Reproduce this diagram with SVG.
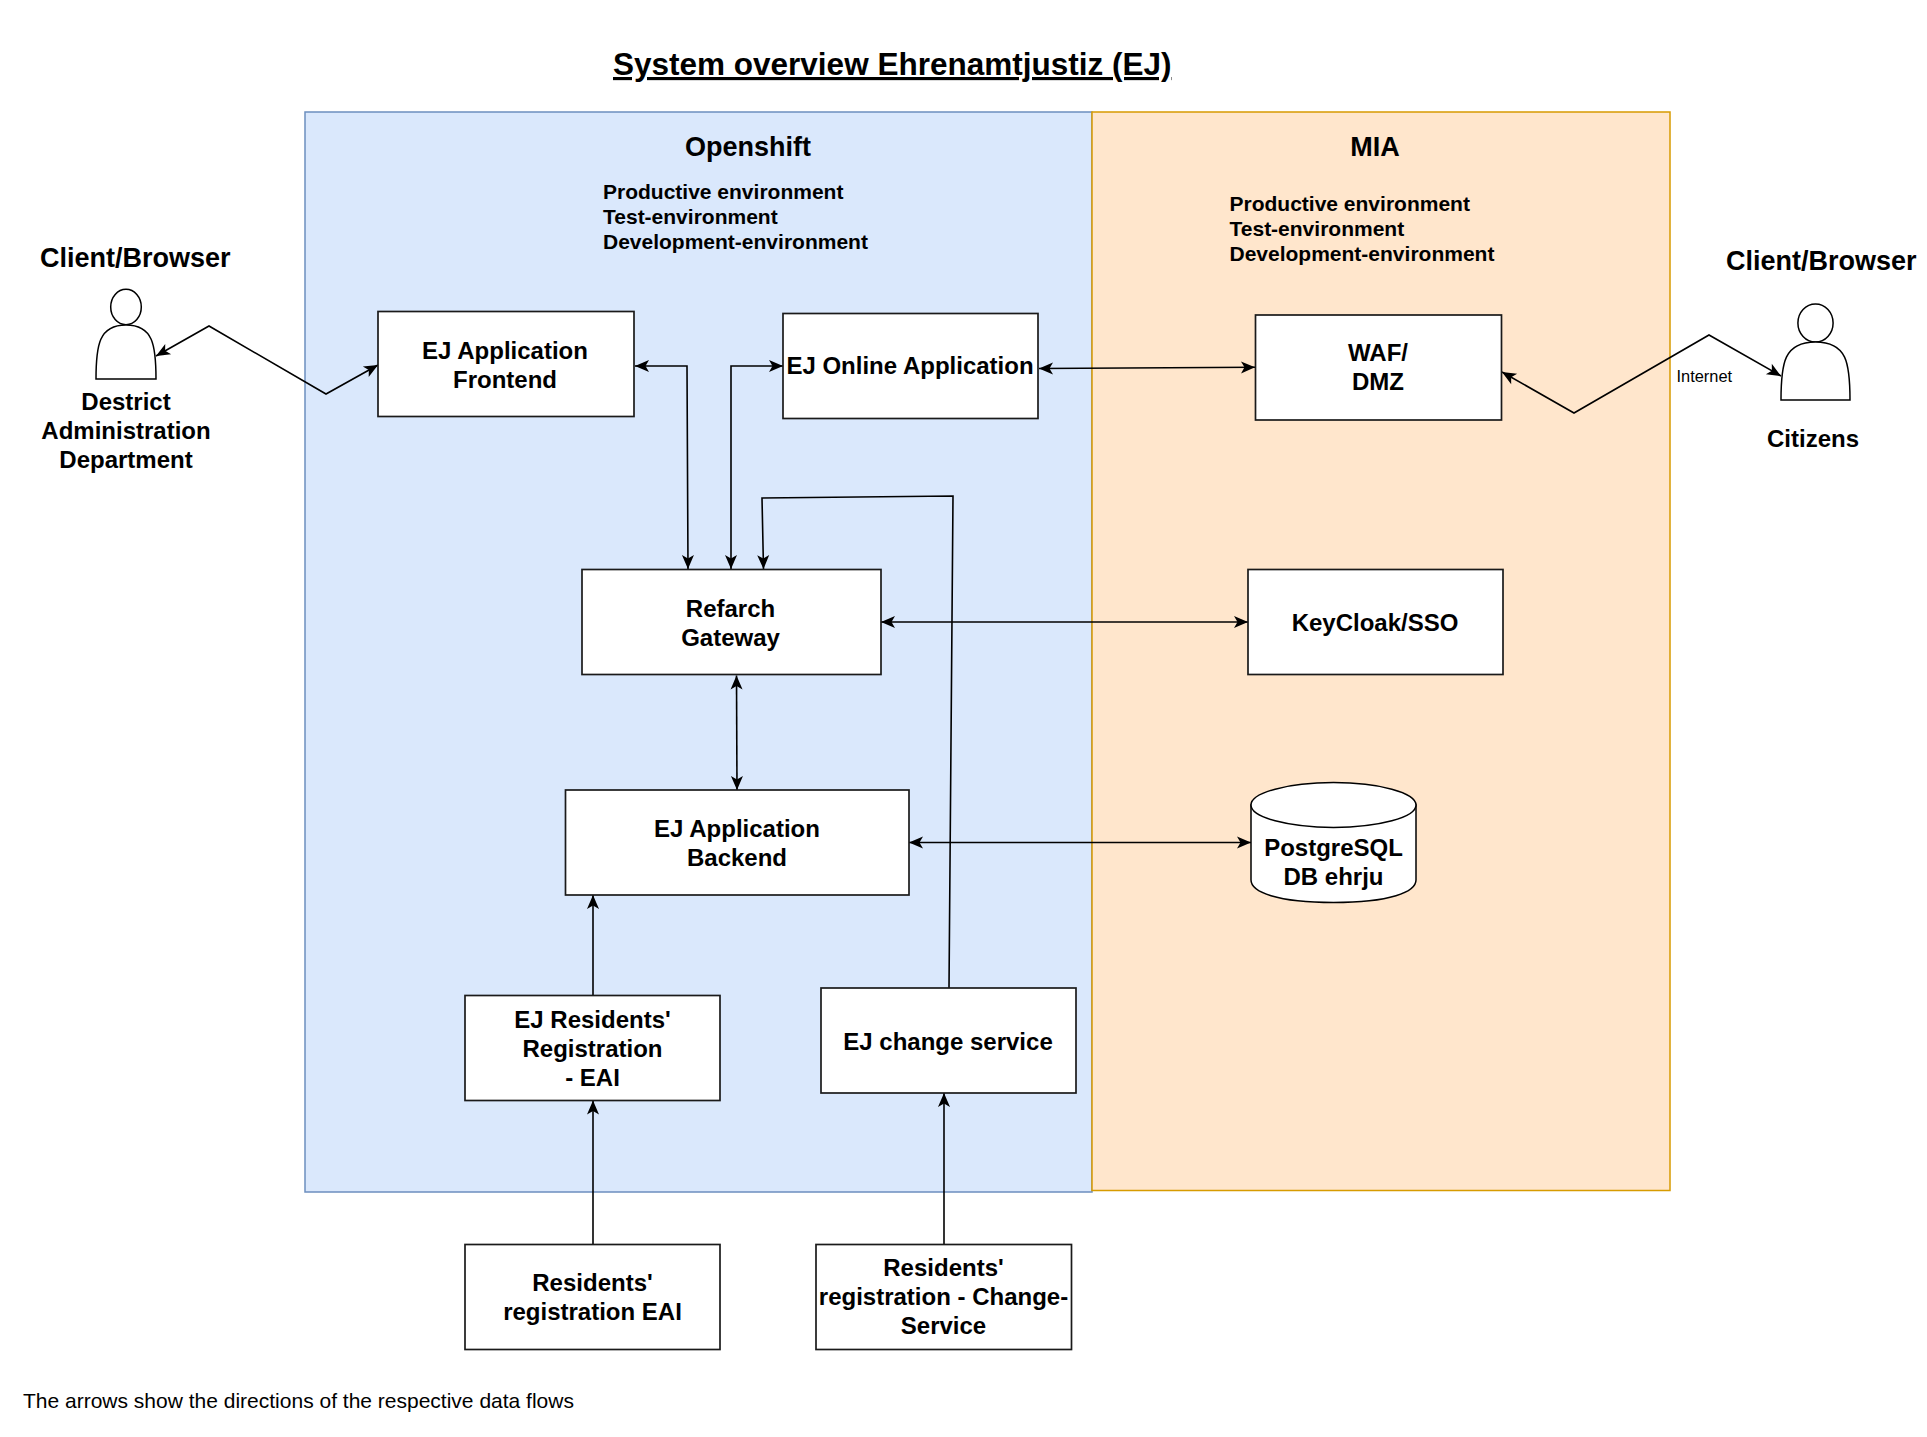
<svg xmlns="http://www.w3.org/2000/svg" width="1927" height="1437" viewBox="0 0 1927 1437">
<style>
text{font-family:"Liberation Sans",Arial,Helvetica,sans-serif;fill:#000}
.b{font-weight:bold;font-size:24px;text-anchor:middle}
.h{font-weight:bold;font-size:27px}
.e{font-weight:bold;font-size:21px}
.n{fill:#fff;stroke:#1a1a1a;stroke-width:1.7}
.s{fill:#fff;stroke:#000;stroke-width:1.5}
.c{fill:none;stroke:#000;stroke-width:1.6;marker-end:url(#a)}
.d{marker-start:url(#a)}
</style>
<defs>
<marker id="a" markerUnits="userSpaceOnUse" markerWidth="16" markerHeight="14" refX="15" refY="7" orient="auto-start-reverse">
<path d="M1,1 L15,7 L1,13 L4.500,7 Z" fill="#000"/>
</marker>
</defs>
<rect width="1927" height="1437" fill="#fff"/>
<text x="613" y="75" font-size="31.500" font-weight="bold" text-decoration="underline">System overview Ehrenamtjustiz (EJ)</text>
<g id="openshift">
<rect x="305" y="112" width="787" height="1080" fill="#dae8fc" stroke="#6c8ebf" stroke-width="1.5"/>
<text class="h" x="748" y="156" text-anchor="middle">Openshift</text>
<text class="e" x="603" y="199">Productive environment</text>
<text class="e" x="603" y="224">Test-environment</text>
<text class="e" x="603" y="249">Development-environment</text>
</g>
<g id="mia">
<rect x="1092" y="112" width="578" height="1078.500" fill="#ffe6cc" stroke="#d79b00" stroke-width="1.5"/>
<text class="h" x="1375" y="156" text-anchor="middle">MIA</text>
<text class="e" x="1229.500" y="211">Productive environment</text>
<text class="e" x="1229.500" y="236">Test-environment</text>
<text class="e" x="1229.500" y="261">Development-environment</text>
</g>
<g id="connectors">
<polyline class="c d" points="156,356 209,326 326,394 378,365"/>
<polyline class="c d" points="1502,372 1574,413 1709,335 1781,376"/>
<polyline class="c d" points="635,366 687,366 688,569"/>
<polyline class="c d" points="783,366 731,366 731,569"/>
<polyline class="c" points="949,988 953,496 762,498 763.500,569"/>
<line class="c d" x1="1039" y1="368.500" x2="1255" y2="367.300"/>
<line class="c d" x1="881" y1="622" x2="1248" y2="622"/>
<line class="c d" x1="736.500" y1="675.500" x2="737" y2="790"/>
<line class="c d" x1="909" y1="842.500" x2="1251" y2="842.500"/>
<line class="c" x1="593" y1="995" x2="593" y2="895"/>
<line class="c" x1="593" y1="1244.500" x2="593" y2="1100.500"/>
<line class="c" x1="944" y1="1244.500" x2="944" y2="1093"/>
</g>
<g id="person-left">
<ellipse cx="126" cy="307" rx="15.300" ry="17.700" class="s"/>
<path d="M96,379 C96,345 99,325 126,325 C153,325 156,345 156,379 Z" class="s"/>
<text class="h" x="40" y="267">Client/Browser</text>
<text class="b" x="126" y="410">Destrict</text>
<text class="b" x="126" y="439">Administration</text>
<text class="b" x="126" y="468">Department</text>
</g>
<g id="person-right">
<ellipse cx="1815.500" cy="323" rx="17.600" ry="19" class="s"/>
<path d="M1781,400 C1781,363 1784,342 1815.500,342 C1847,342 1850,363 1850,400 Z" class="s"/>
<text class="h" x="1726" y="269.500">Client/Browser</text>
<text class="b" x="1813" y="447">Citizens</text>
<text x="1676.500" y="382" font-size="16.400">Internet</text>
</g>
<g id="frontend"><rect class="n" x="378" y="311.500" width="256" height="105"/><text class="b" x="505" y="359">EJ Application</text><text class="b" x="505" y="388">Frontend</text></g>
<g id="online"><rect class="n" x="783" y="313.500" width="255" height="105"/><text class="b" x="910" y="374">EJ Online Application</text></g>
<g id="waf"><rect class="n" x="1255.500" y="315" width="246" height="105"/><text class="b" x="1378" y="361">WAF/</text><text class="b" x="1378" y="390">DMZ</text></g>
<g id="gateway"><rect class="n" x="582" y="569.500" width="299" height="105"/><text class="b" x="730.500" y="617">Refarch</text><text class="b" x="730.500" y="646">Gateway</text></g>
<g id="keycloak"><rect class="n" x="1248" y="569.500" width="255" height="105"/><text class="b" x="1375" y="630.500">KeyCloak/SSO</text></g>
<g id="backend"><rect class="n" x="565.500" y="790" width="343.500" height="105"/><text class="b" x="737" y="837">EJ Application</text><text class="b" x="737" y="866">Backend</text></g>
<g id="postgres">
<path d="M1251,805 V880 C1251,892 1277,902.500 1333.500,902.500 C1390,902.500 1416,892 1416,880 V805 Z" class="s"/>
<ellipse cx="1333.500" cy="805" rx="82.500" ry="22.400" class="s"/>
<text class="b" x="1333.500" y="856">PostgreSQL</text><text class="b" x="1333.500" y="885">DB ehrju</text>
</g>
<g id="eai"><rect class="n" x="465" y="995.500" width="255" height="105"/><text class="b" x="592.500" y="1027.700">EJ Residents'</text><text class="b" x="592.500" y="1056.700">Registration</text><text class="b" x="592.500" y="1085.800">- EAI</text></g>
<g id="change"><rect class="n" x="821" y="988" width="255" height="105"/><text class="b" x="948" y="1050">EJ change service</text></g>
<g id="reg-eai"><rect class="n" x="465" y="1244.500" width="255" height="105"/><text class="b" x="592.500" y="1291">Residents'</text><text class="b" x="592.500" y="1320">registration EAI</text></g>
<g id="reg-change"><rect class="n" x="816" y="1244.500" width="255.500" height="105"/><text class="b" x="943.500" y="1275.500">Residents'</text><text class="b" x="943.500" y="1304.500">registration - Change-</text><text class="b" x="943.500" y="1333.500">Service</text></g>
<text x="23" y="1408" font-size="21">The arrows show the directions of the respective data flows</text>
</svg>
